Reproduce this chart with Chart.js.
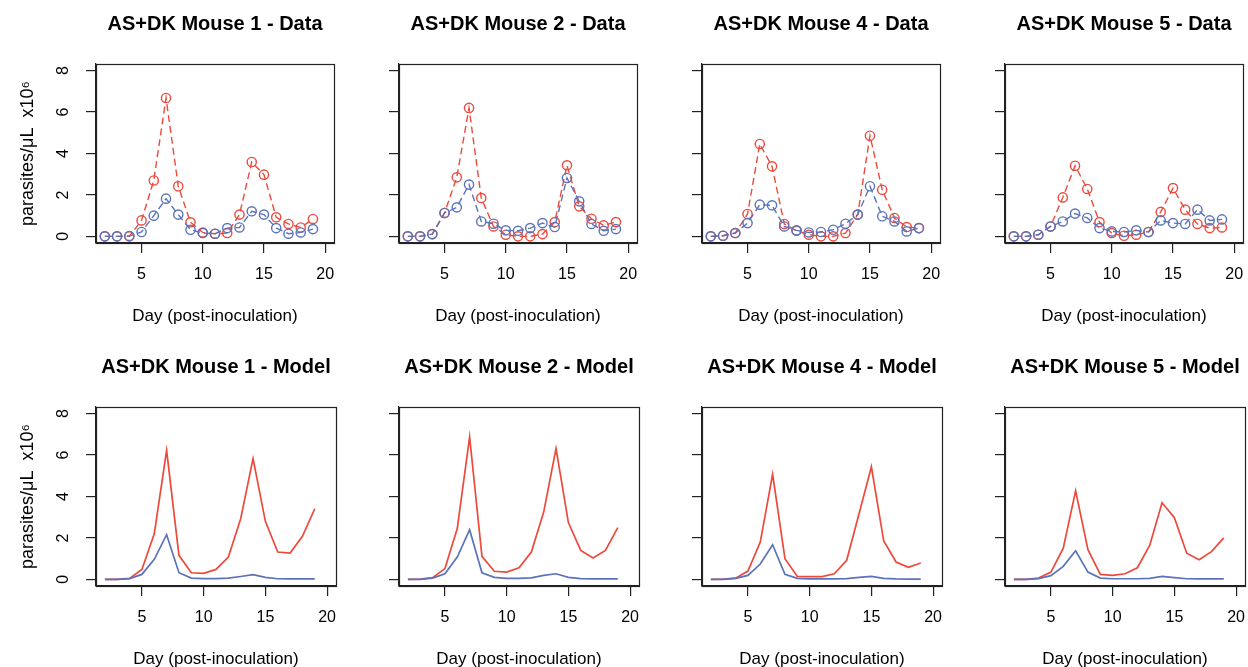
<!DOCTYPE html>
<html>
<head>
<meta charset="utf-8">
<script src="https://cdn.jsdelivr.net/npm/chart.js@4.4.1/dist/chart.umd.min.js"></script>
<style>
  html, body { margin: 0; padding: 0; background: #fff; overflow: hidden; }
  #wrap { position: relative; width: 1248px; height: 667px; }
  #wrap canvas { position: absolute; }
</style>
</head>
<body>
<div id="wrap"></div>
<script>
// days sampled (post-inoculation)
const days = [2, 3, 4, 5, 6, 7, 8, 9, 10, 11, 12, 13, 14, 15, 16, 17, 18, 19];
const xTicks = [5, 10, 15, 20];
const yTicks = [0, 2, 4, 6, 8];
const mice = ['1', '2', '4', '5'];

// observed data (x10^6 parasites/uL)
const m1DataRed  = [0, 0, 0, 0.77, 2.7, 6.68, 2.42, 0.68, 0.19, 0.13, 0.16, 1.05, 3.59, 2.98, 0.92, 0.6, 0.43, 0.84];
const m1DataBlue = [0, 0, 0.02, 0.21, 1.0, 1.82, 1.05, 0.32, 0.16, 0.13, 0.4, 0.43, 1.21, 1.05, 0.4, 0.13, 0.19, 0.35];
const m2DataRed  = [0, 0, 0.11, 1.13, 2.85, 6.2, 1.85, 0.48, 0.08, 0, 0, 0.11, 0.69, 3.43, 1.45, 0.85, 0.53, 0.69];
const m2DataBlue = [0, 0, 0.11, 1.13, 1.4, 2.5, 0.72, 0.61, 0.29, 0.27, 0.4, 0.64, 0.45, 2.82, 1.69, 0.6, 0.27, 0.35];
const m4DataRed  = [0, 0.03, 0.16, 1.08, 4.46, 3.38, 0.6, 0.27, 0.08, 0, 0, 0.16, 1.05, 4.86, 2.25, 0.89, 0.45, 0.4];
const m4DataBlue = [0, 0.03, 0.16, 0.64, 1.53, 1.5, 0.48, 0.29, 0.19, 0.21, 0.32, 0.61, 1.05, 2.42, 0.97, 0.72, 0.24, 0.4];
const m5DataRed  = [0, 0, 0.08, 0.48, 1.88, 3.41, 2.29, 0.69, 0.16, 0.03, 0.08, 0.21, 1.18, 2.33, 1.29, 0.6, 0.4, 0.43];
const m5DataBlue = [0, 0, 0.08, 0.48, 0.72, 1.1, 0.89, 0.4, 0.24, 0.21, 0.29, 0.21, 0.77, 0.64, 0.6, 1.29, 0.77, 0.82];

// model fits
const m1ModelRed  = [0, 0, 0.05, 0.48, 2.2, 6.23, 1.16, 0.32, 0.29, 0.48, 1.08, 2.93, 5.83, 2.8, 1.32, 1.27, 2.08, 3.41];
const m1ModelBlue = [0, 0, 0.04, 0.24, 0.97, 2.16, 0.32, 0.06, 0.04, 0.04, 0.06, 0.14, 0.23, 0.1, 0.03, 0.02, 0.02, 0.02];
const m2ModelRed  = [0, 0.01, 0.08, 0.52, 2.45, 6.88, 1.11, 0.39, 0.35, 0.56, 1.32, 3.25, 6.31, 2.74, 1.4, 1.03, 1.4, 2.5];
const m2ModelBlue = [0, 0, 0.06, 0.27, 1.08, 2.4, 0.32, 0.1, 0.05, 0.05, 0.07, 0.19, 0.27, 0.1, 0.04, 0.02, 0.02, 0.02];
const m4ModelRed  = [0, 0.01, 0.06, 0.4, 1.8, 5.07, 1.0, 0.14, 0.13, 0.13, 0.27, 0.92, 3.17, 5.43, 1.85, 0.84, 0.58, 0.79];
const m4ModelBlue = [0, 0, 0.05, 0.19, 0.74, 1.67, 0.24, 0.05, 0.02, 0.02, 0.02, 0.04, 0.1, 0.14, 0.05, 0.02, 0.01, 0.01];
const m5ModelRed  = [0, 0, 0.06, 0.35, 1.51, 4.27, 1.43, 0.24, 0.19, 0.27, 0.56, 1.64, 3.7, 2.98, 1.26, 0.95, 1.34, 2.0];
const m5ModelBlue = [0, 0, 0.04, 0.18, 0.63, 1.38, 0.35, 0.06, 0.03, 0.03, 0.03, 0.05, 0.14, 0.08, 0.03, 0.02, 0.02, 0.02];

const dataRed = [m1DataRed, m2DataRed, m4DataRed, m5DataRed];
const dataBlue = [m1DataBlue, m2DataBlue, m4DataBlue, m5DataBlue];
const modelRed = [m1ModelRed, m2ModelRed, m4ModelRed, m5ModelRed];
const modelBlue = [m1ModelBlue, m2ModelBlue, m4ModelBlue, m5ModelBlue];

const RED = '#EC4A3C';
const BLUE = '#5A73BA';
const FONT = '"Liberation Sans", Arial, Helvetica, sans-serif';

// draws the full box around the plot region (R style)
const boxPlugin = {
  id: 'box',
  afterDraw(chart) {
    const a = chart.chartArea;
    const ctx = chart.ctx;
    ctx.save();
    ctx.strokeStyle = '#222';
    ctx.lineWidth = 1.2;
    ctx.strokeRect(Math.round(a.left) + 0.5, Math.round(a.top) + 0.5,
      Math.round(a.right - a.left), Math.round(a.bottom - a.top));
    ctx.restore();
  }
};

function toPoints(vals) {
  return days.map((d, i) => ({ x: d, y: vals[i] }));
}

function makeDataset(vals, color, isData) {
  return {
    data: toPoints(vals),
    borderColor: color,
    borderWidth: isData ? 1.4 : 1.7,
    borderDash: isData ? [7, 4] : [],
    pointRadius: isData ? 4.6 : 0,
    pointBorderWidth: 1.4,
    pointBorderColor: color,
    pointBackgroundColor: 'rgba(0,0,0,0)',
    tension: 0,
    fill: false
  };
}

function makePanel(row, col) {
  const isData = row === 0;
  const canvas = document.createElement('canvas');
  canvas.width = 340;
  canvas.height = 333;
  canvas.style.width = '340px';
  canvas.style.height = '333px';
  canvas.style.left = (303 * col) + 'px';
  canvas.style.top = (row === 0 ? 0 : 343) + 'px';
  document.getElementById('wrap').appendChild(canvas);

  const red = isData ? dataRed[col] : modelRed[col];
  const blue = isData ? dataBlue[col] : modelBlue[col];
  const title = 'AS+DK Mouse ' + mice[col] + ' - ' + (isData ? 'Data' : 'Model');

  return new Chart(canvas.getContext('2d'), {
    type: 'line',
    data: {
      datasets: [makeDataset(blue, BLUE, isData), makeDataset(red, RED, isData)]
    },
    options: {
      responsive: false,
      animation: false,
      layout: { padding: { left: 0, right: 4, top: 0, bottom: 0 } },
      plugins: {
        legend: { display: false },
        tooltip: { enabled: false },
        title: {
          display: true,
          text: title,
          fullSize: false,
          color: '#000',
          font: { family: FONT, size: 20, weight: 'bold', lineHeight: 1.2 },
          padding: { top: 12, bottom: 28 }
        }
      },
      scales: {
        x: {
          type: 'linear',
          min: 1.28,
          max: 20.72,
          afterBuildTicks: s => { s.ticks = xTicks.map(v => ({ value: v })); },
          afterFit: s => { s.height = 90; s.paddingLeft = 0; s.paddingRight = 0; },
          grid: { drawOnChartArea: false, drawTicks: true, tickLength: 10, color: '#222', lineWidth: 1.2 },
          border: { display: true, color: '#222', width: 1.2 },
          ticks: { color: '#000', font: { family: FONT, size: 16 }, padding: 12, maxRotation: 0, autoSkip: false },
          title: {
            display: true,
            text: 'Day (post-inoculation)',
            color: '#000',
            font: { family: FONT, size: 17, lineHeight: 1.2 },
            padding: { top: 0, bottom: 6 }
          }
        },
        y: {
          type: 'linear',
          min: -0.32,
          max: 8.32,
          afterBuildTicks: s => { s.ticks = yTicks.map(v => ({ value: v })); },
          afterFit: s => { s.width = 96; s.paddingTop = 0; s.paddingBottom = 0; },
          grid: { drawOnChartArea: false, drawTicks: true, tickLength: 10, color: '#222', lineWidth: 1.2 },
          border: { display: true, color: '#222', width: 1.2 },
          ticks: {
            display: col === 0,
            color: '#000',
            font: { family: FONT, size: 16 },
            minRotation: 90,
            maxRotation: 90,
            crossAlign: 'center',
            padding: 18,
            autoSkip: false
          },
          title: {
            display: col === 0,
            text: 'parasites/\u03bcL  x10\u2076',
            color: '#000',
            font: { family: FONT, size: 18, lineHeight: 1.2 },
            padding: { top: 17, bottom: 0 }
          }
        }
      }
    },
    plugins: [boxPlugin]
  });
}

for (let row = 0; row < 2; row++) {
  for (let col = 0; col < 4; col++) {
    makePanel(row, col);
  }
}
</script>
</body>
</html>
